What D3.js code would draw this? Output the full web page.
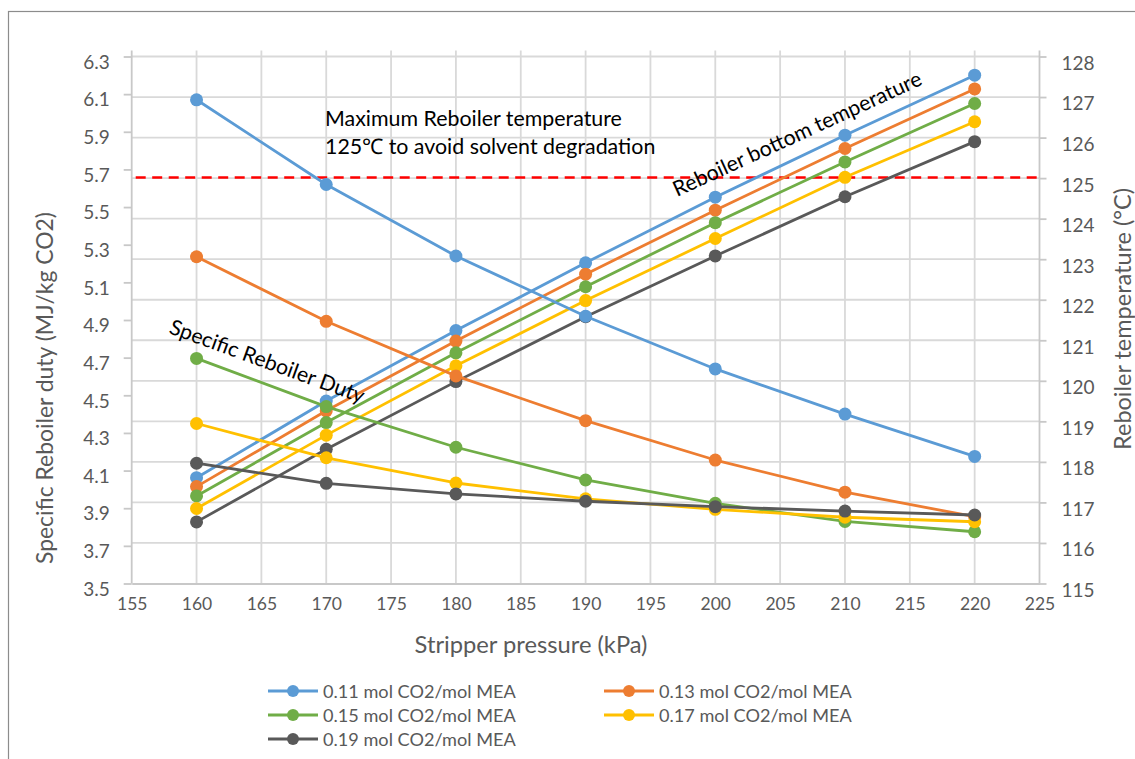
<!DOCTYPE html>
<html><head><meta charset="utf-8">
<script src="https://cdn.jsdelivr.net/npm/d3@7/dist/d3.min.js"></script>
<style>
html,body{margin:0;padding:0;background:#fff;}
svg{display:block;font-family:Lato, "Open Sans", sans-serif;}
</style></head>
<body>
<svg id="chart" width="1135" height="759"></svg>
<script>
// ---------- data ----------
const pressures = [160, 170, 180, 190, 200, 210, 220];
const seriesNames = ["0.11 mol CO2/mol MEA", "0.13 mol CO2/mol MEA", "0.15 mol CO2/mol MEA", "0.17 mol CO2/mol MEA", "0.19 mol CO2/mol MEA"];
const seriesColors = ["#5B9BD5", "#ED7D31", "#70AD47", "#FFC000", "#595959"];
// Specific reboiler duty (MJ/kg CO2), left axis
const duty011 = [6.07, 5.62, 5.24, 4.92, 4.64, 4.40, 4.175];
const duty013 = [5.236, 4.893, 4.603, 4.365, 4.156, 3.985, 3.855];
const duty015 = [4.696, 4.44, 4.224, 4.05, 3.926, 3.83, 3.775];
const duty017 = [4.35, 4.168, 4.034, 3.95, 3.894, 3.852, 3.828];
const duty019 = [4.139, 4.032, 3.976, 3.937, 3.908, 3.885, 3.864];
// Reboiler bottom temperature (°C), right axis
const temp011 = [117.61, 119.5, 121.24, 122.91, 124.53, 126.06, 127.54];
const temp013 = [117.39, 119.26, 120.98, 122.63, 124.21, 125.73, 127.2];
const temp015 = [117.16, 118.97, 120.69, 122.32, 123.9, 125.4, 126.84];
const temp017 = [116.85, 118.66, 120.37, 121.98, 123.51, 125.02, 126.39];
const temp019 = [116.52, 118.31, 119.98, 121.58, 123.08, 124.54, 125.9];
const dutySeries = [duty011, duty013, duty015, duty017, duty019];
const tempSeries = [temp011, temp013, temp015, temp017, temp019];
const xTicks = [155, 160, 165, 170, 175, 180, 185, 190, 195, 200, 205, 210, 215, 220, 225];
const leftTicks = [3.5, 3.7, 3.9, 4.1, 4.3, 4.5, 4.7, 4.9, 5.1, 5.3, 5.5, 5.7, 5.9, 6.1, 6.3];
const rightTicks = [115, 116, 117, 118, 119, 120, 121, 122, 123, 124, 125, 126, 127, 128];
const maxTemp = 125;

// ---------- layout ----------
const svg = d3.select("#chart");
const L = 131.7, R = 1039.5, T = 56.5, B = 583.5;
const x = d3.scaleLinear().domain([155, 225]).range([L, R]);
const yL = d3.scaleLinear().domain([3.5, 6.3]).range([B, T]);
const yR = d3.scaleLinear().domain([115, 128]).range([B, T]);

// scale a text's font size so its rendered width matches a target width
function fit(sel, target) {
  const fs = parseFloat(sel.style("font-size"));
  const w = sel.node().getComputedTextLength();
  if (w > 0) sel.style("font-size", (fs * target / w).toFixed(2) + "px");
  return sel;
}

svg.append("rect").attr("x", 0).attr("y", 0).attr("width", 1135).attr("height", 759).attr("fill", "#fff");
svg.append("rect").attr("x", 8.5).attr("y", 11.5).attr("width", 1140).attr("height", 760)
  .attr("fill", "none").attr("stroke", "#8c8c8c").attr("stroke-width", 1.2);

// gridlines
const grid = svg.append("g").attr("stroke", "#d9d9d9").attr("stroke-width", 1.8);
grid.selectAll(".vg").data(xTicks.slice(1, -1)).join("line")
  .attr("x1", d => x(d)).attr("x2", d => x(d)).attr("y1", T - 6).attr("y2", B);
grid.selectAll(".hg").data(rightTicks.slice(1)).join("line")
  .attr("x1", L).attr("x2", R).attr("y1", d => yR(d)).attr("y2", d => yR(d));

// axes
const tickColor = "#595959";
const axL = svg.append("g").attr("transform", `translate(${L},0)`)
  .call(d3.axisLeft(yL).tickValues(leftTicks).tickFormat(d3.format(".1f")).tickSize(8).tickPadding(14));
const axR = svg.append("g").attr("transform", `translate(${R},0)`)
  .call(d3.axisRight(yR).tickValues(rightTicks).tickFormat(d3.format("d")).tickSize(7).tickPadding(15));
const axB = svg.append("g").attr("transform", `translate(0,${B})`)
  .call(d3.axisBottom(x).tickValues(xTicks).tickFormat(d3.format("d")).tickSize(0).tickPadding(14));
[axL, axR, axB].forEach(a => {
  a.select(".domain").attr("stroke", "#c8c8c8").attr("stroke-width", 1.8);
  a.selectAll(".tick line").attr("stroke", "#c8c8c8").attr("stroke-width", 1.8);
  a.selectAll("text").attr("fill", tickColor).style("font-family", "Lato").style("font-size", "19px");
});
axL.select(".domain").attr("d", `M0,${T - 6}V${B}`);
axR.select(".domain").attr("d", `M0,${T - 6}V${B}`);
axB.selectAll("text").style("font-size", "17.5px");
axL.selectAll(".tick text").attr("dy", "0.62em");
axR.selectAll(".tick text").attr("dy", "0.68em");

// axis titles
fit(svg.append("text").attr("x", 531).attr("y", 653).attr("text-anchor", "middle")
  .attr("fill", tickColor).style("font-size", "22px").text("Stripper pressure (kPa)"), 233);
fit(svg.append("text").attr("transform", "translate(53,388) rotate(-90)").attr("text-anchor", "middle")
  .attr("fill", tickColor).style("font-size", "22px").text("Specific Reboiler duty (MJ/kg CO2)"), 352);
fit(svg.append("text").attr("transform", "translate(1131,319) rotate(-90)").attr("text-anchor", "middle")
  .attr("fill", tickColor).style("font-size", "22px").text("Reboiler temperature (°C)"), 262);

// max temperature line
svg.append("line").attr("x1", L + 4).attr("x2", R).attr("y1", yR(maxTemp) - 0.5).attr("y2", yR(maxTemp) - 0.5)
  .attr("stroke", "#ff0000").attr("stroke-width", 2.5).attr("stroke-dasharray", "10,6.5");

// series
function drawSeries(values, scale, color) {
  const pts = pressures.map((p, i) => [x(p), scale(values[i])]);
  const g = svg.append("g");
  g.append("path").attr("d", d3.line()(pts)).attr("fill", "none")
    .attr("stroke", color).attr("stroke-width", 2.8).attr("stroke-linejoin", "round");
  g.selectAll("circle").data(pts).join("circle")
    .attr("cx", d => d[0]).attr("cy", d => d[1]).attr("r", 6.5).attr("fill", color);
}
tempSeries.forEach((s, i) => drawSeries(s, yR, seriesColors[i]));
dutySeries.forEach((s, i) => drawSeries(s, yL, seriesColors[i]));

// annotations
const ann1 = svg.append("text").attr("x", 325).attr("y", 126).attr("fill", "#000")
  .style("font-size", "21px").text("Maximum Reboiler temperature");
fit(ann1, 297);
svg.append("text").attr("x", 325).attr("y", 154).attr("fill", "#000")
  .style("font-size", ann1.style("font-size")).text("125℃ to avoid solvent degradation");
fit(svg.append("text").attr("transform", "translate(677,197) rotate(-24.6)").attr("fill", "#000")
  .style("font-size", "21px").text("Reboiler bottom temperature"), 271);
fit(svg.append("text").attr("transform", "translate(168,333) rotate(20)").attr("fill", "#000")
  .style("font-size", "21px").text("Specific Reboiler Duty"), 206);

// legend
const legendPos = [[268, 691], [604, 691], [268, 715], [604, 715], [268, 739]];
seriesNames.forEach((name, i) => {
  const [lx, ly] = legendPos[i];
  const g = svg.append("g");
  g.append("line").attr("x1", lx).attr("x2", lx + 50).attr("y1", ly).attr("y2", ly)
    .attr("stroke", seriesColors[i]).attr("stroke-width", 2.8);
  g.append("circle").attr("cx", lx + 25).attr("cy", ly).attr("r", 6).attr("fill", seriesColors[i]);
  fit(g.append("text").attr("x", lx + 55).attr("y", ly).attr("dy", "0.36em")
    .attr("fill", tickColor).style("font-size", "18px").text(name), 193);
});
</script>
</body></html>
